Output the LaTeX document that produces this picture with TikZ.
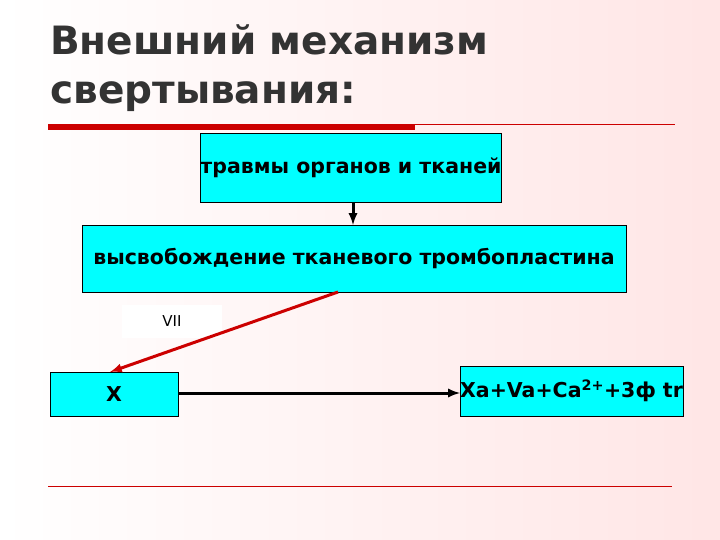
\documentclass[tikz,border=0pt]{standalone}
\usepackage{fontspec}
\setmainfont{DejaVu Sans}
\definecolor{boxc}{HTML}{00FFFF}
\definecolor{redl}{HTML}{CC0000}
\definecolor{ttl}{HTML}{333333}
\begin{document}
\begin{tikzpicture}[x=1pt,y=-1pt,
  bx/.style={draw=black,fill=boxc,inner sep=0pt,font=\bfseries\fontsize{20.5}{22}\selectfont},
  >=latex]
\useasboundingbox (0,0) rectangle (720,540);
\shade[left color=white,right color=red!10] (0,0) rectangle (720,540);
\node[anchor=north west,align=left,text=ttl,font=\bfseries\fontsize{39}{49}\selectfont,inner sep=0pt] (title) at (50,24) {Внешний механизм\\свертывания:};
\fill[redl] (48,124) rectangle (415,130);
\draw[redl,line width=0.6pt] (415,124) -- (675,124);
\draw[redl,line width=0.6pt] (48,486) -- (672,486);
\node[bx,minimum width=300pt,minimum height=69pt] (b1) at (351,167.5) {травмы органов и тканей};
\node[bx,minimum width=544pt,minimum height=67pt] (b2) at (354,258.5) {высвобождение тканевого тромбопластина};
\node[fill=white,minimum width=100pt,minimum height=33pt,font=\fontsize{15}{17}\selectfont] (vii) at (172,321.5) {VII};
\node[bx,minimum width=128pt,minimum height=44pt] (b3) at (114,394) {X};
\node[bx,minimum width=223pt,minimum height=50pt] (b4) at (571.5,391) {Xa+Va+Ca\textsuperscript{2+}+3ф tr};
\coordinate (a1) at (353,202);
\coordinate (a2) at (353,225);
\draw[->,line width=3pt] (a1) -- (a2);
\coordinate (rs) at (338,292);
\coordinate (re) at (110,372);
\draw[->,redl,line width=3pt] (rs) -- (re);
\coordinate (h1) at (178,393);
\coordinate (h2) at (460,393);
\draw[->,line width=3pt] (h1) -- (h2);
\end{tikzpicture}
\end{document}
